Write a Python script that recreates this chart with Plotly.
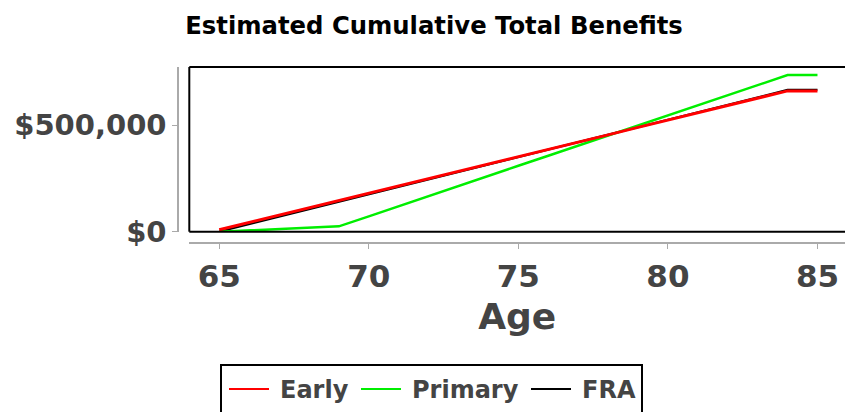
import plotly.graph_objects as go

# Ages and cumulative benefit totals for each claiming strategy
ages = [65, 66, 67, 68, 69, 70, 71, 72, 73, 74, 75, 76, 77, 78, 79, 80, 81, 82, 83, 84, 85]
early = [9000, 43000, 77000, 112000, 146000, 180000, 214000, 249000, 283000, 317000, 352000,
         386000, 420000, 454000, 489000, 523000, 557000, 591000, 626000, 660000, 660000]
primary = [0, 6000, 12000, 19000, 25000, 72000, 120000, 167000, 214000, 261000, 309000,
           356000, 403000, 450000, 498000, 545000, 592000, 639000, 687000, 734000, 734000]
fra = [0, 35000, 70000, 105000, 140000, 175000, 210000, 245000, 280000, 315000, 350000,
       385000, 420000, 455000, 490000, 525000, 560000, 595000, 630000, 665000, 665000]

x_ticks = [65, 70, 75, 80, 85]
y_ticks = [0, 500000]
y_labels = ["$0", "$500,000"]

series_names = ["Early", "Primary", "FRA"]
series_colors = ["red", "#00ee00", "black"]

FONT = "DejaVu Sans"
TXT = "#444444"
AXIS_GRAY = "#aaaaaa"

W, H = 845, 412
ML, MT, MB = 170, 67, 160
PW, PH = W - ML, H - MT - MB


def px_x(px):
    """Pixel column -> paper x."""
    return (px - ML) / PW


def px_y(py):
    """Pixel row -> paper y."""
    return (H - MB - py) / PH


fig = go.Figure()
fig.add_trace(go.Scatter(x=ages, y=fra, name="FRA", mode="lines",
                         line=dict(color="black", width=2), showlegend=False))
fig.add_trace(go.Scatter(x=ages, y=primary, name="Primary", mode="lines",
                         line=dict(color="#00ee00", width=2.5), showlegend=False))
fig.add_trace(go.Scatter(x=ages, y=early, name="Early", mode="lines",
                         line=dict(color="red", width=3), showlegend=False))

# Plot frame: left, top and bottom edges
for x0, y0, x1, y1 in [(0, 0, 0, 1), (0, 1, 1.02, 1), (0, 0, 1.02, 0)]:
    fig.add_shape(type="line", xref="x domain", yref="y domain",
                  x0=x0, y0=y0, x1=x1, y1=y1, line=dict(color="black", width=2))

# Legend box below the axis title, with a 40px line sample per series
fig.add_shape(type="rect", xref="paper", yref="paper",
              x0=px_x(221), x1=px_x(642), y0=px_y(420), y1=px_y(365),
              line=dict(color="black", width=2), fillcolor="white")
entry_starts = [229, 361, 531]
for start, name, color in zip(entry_starts, series_names, series_colors):
    fig.add_shape(type="line", xref="paper", yref="paper",
                  x0=px_x(start), x1=px_x(start + 40), y0=px_y(389), y1=px_y(389),
                  line=dict(color=color, width=2))
    fig.add_annotation(xref="paper", yref="paper", x=px_x(start + 49), y=px_y(390),
                       xanchor="left", yanchor="middle", showarrow=False,
                       text=name, font=dict(family=FONT, size=24, color=TXT, weight="bold"))

fig.update_layout(
    width=W, height=H,
    margin=dict(l=ML, r=0, t=MT, b=MB),
    paper_bgcolor="white", plot_bgcolor="white",
    font=dict(family=FONT, color=TXT),
    title=dict(text="<b>Estimated Cumulative Total Benefits</b>",
               font=dict(family=FONT, size=24.3, color="black"),
               xref="container", x=434 / W, xanchor="center",
               yref="container", y=1 - 25 / H, yanchor="middle"),
    xaxis=dict(domain=[px_x(189.3), 1], range=[64, 85.92], anchor="free", position=px_y(243.3),
               tickmode="array", tickvals=x_ticks,
               showline=True, linecolor=AXIS_GRAY, linewidth=2,
               ticks="outside", ticklen=5, tickcolor=AXIS_GRAY, tickwidth=1,
               showgrid=False, zeroline=False,
               tickfont=dict(family=FONT, size=31, color=TXT, weight="bold"),
               title=dict(text="Age", font=dict(family=FONT, size=36, color=TXT, weight="bold"),
                          standoff=10)),
    yaxis=dict(domain=[px_y(231.7), 1], range=[0, 772000], anchor="free", position=px_x(178.3),
               tickmode="array", tickvals=y_ticks, ticktext=y_labels,
               showline=True, linecolor=AXIS_GRAY, linewidth=2,
               ticks="outside", ticklen=5, tickcolor=AXIS_GRAY, tickwidth=1,
               showgrid=False, zeroline=False,
               tickfont=dict(family=FONT, size=29, color=TXT, weight="bold")),
    showlegend=False,
)

fig.write_html("out.html")
